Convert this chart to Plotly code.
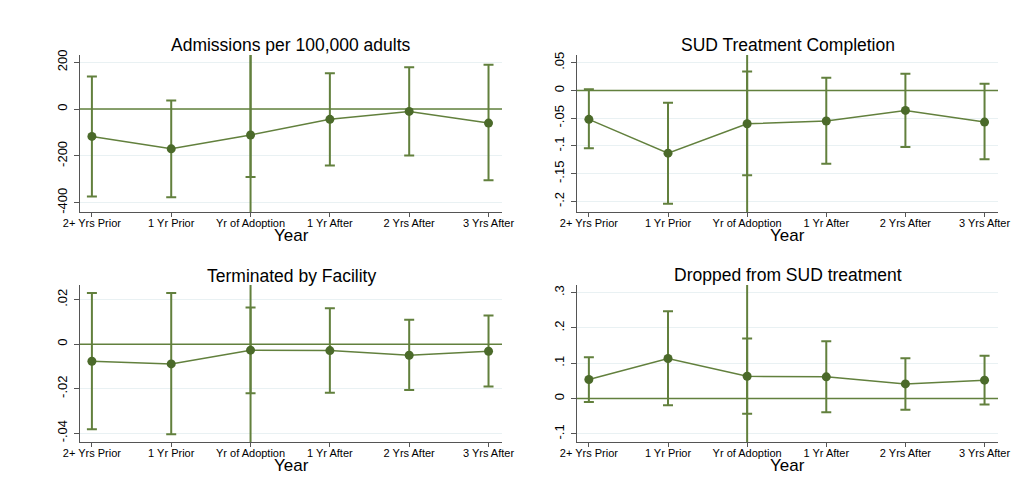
import plotly.graph_objects as go

W, H = 1020, 493
OFF = 8  # page body margin offset

labels = ["2+ Yrs Prior", "1 Yr Prior", "Yr of Adoption", "1 Yr After", "2 Yrs After", "3 Yrs After"]

adm_est = [-117, -170, -111, -44, -10, -60]
adm_lo = [-374, -377, -290, -241, -199, -304]
adm_hi = [139, 37, 239, 153, 179, 189]

comp_est = [-0.052, -0.113, -0.060, -0.055, -0.036, -0.057]
comp_lo = [-0.104, -0.204, -0.153, -0.132, -0.102, -0.124]
comp_hi = [0.002, -0.022, 0.034, 0.023, 0.030, 0.012]

term_est = [-0.0077, -0.0089, -0.0027, -0.0029, -0.0050, -0.0032]
term_lo = [-0.0383, -0.0405, -0.0221, -0.0218, -0.0206, -0.0190]
term_hi = [0.0230, 0.0230, 0.0165, 0.0162, 0.0110, 0.0129]

drop_est = [0.054, 0.1135, 0.063, 0.0615, 0.0415, 0.052]
drop_lo = [-0.010, -0.019, -0.043, -0.039, -0.032, -0.017]
drop_hi = [0.117, 0.247, 0.170, 0.162, 0.114, 0.121]

titles = ["Admissions per 100,000 adults", "SUD Treatment Completion",
          "Terminated by Facility", "Dropped from SUD treatment"]

adm_ticks = [-400, -200, 0, 200]
adm_ticktext = ["-400", "-200", "0", "200"]
comp_ticks = [-0.2, -0.15, -0.1, -0.05, 0, 0.05]
comp_ticktext = ["-.2", "-.15", "-.1", "-.05", "0", ".05"]
term_ticks = [-0.04, -0.02, 0, 0.02]
term_ticktext = ["-.04", "-.02", "0", ".02"]
drop_ticks = [-0.1, 0, 0.1, 0.2, 0.3]
drop_ticktext = ["-.1", "0", ".1", ".2", ".3"]

panels = [
    (adm_est, adm_lo, adm_hi, adm_ticks, adm_ticktext, [-440, 231]),
    (comp_est, comp_lo, comp_hi, comp_ticks, comp_ticktext, [-0.219, 0.0639]),
    (term_est, term_lo, term_hi, term_ticks, term_ticktext, [-0.044, 0.0266]),
    (drop_est, drop_lo, drop_hi, drop_ticks, drop_ticktext, [-0.123, 0.3215]),
]

XR = [-0.15, 5.17]

# target pixel boxes in the screenshot (left, right, top, bottom)
boxes = [(80, 502, 55, 212), (577, 998, 55, 212), (80, 502, 285, 442), (577, 998, 285, 442)]
title_y = [45, 45, 276, 275]
year_y = [235, 235, 465, 465]

MARK = "#4B6A2A"
LINE = "#62803D"
GRID = "#E9F1F3"
AX = "#555555"
FONT = "Liberation Sans, Arial, sans-serif"


def px_x(v):
    return (v - OFF) / W


def px_y(v):
    return 1 - (v - OFF) / H


fig = go.Figure()
xs = list(range(len(labels)))

for i, (est, lo, hi, tv, tt, yr) in enumerate(panels):
    n = "" if i == 0 else str(i + 1)
    l, r, t, b = boxes[i]
    xa, ya = "x" + n, "y" + n
    # zero reference line
    fig.add_trace(go.Scatter(x=XR, y=[0, 0], mode="lines", line=dict(color=LINE, width=1.5),
                             xaxis=xa, yaxis=ya, showlegend=False, hoverinfo="skip"))
    # adoption-year reference line
    fig.add_trace(go.Scatter(x=[xs[2], xs[2]], y=yr, mode="lines", line=dict(color=LINE, width=2),
                             xaxis=xa, yaxis=ya, showlegend=False, hoverinfo="skip"))
    fig.add_trace(go.Scatter(
        x=xs, y=est, mode="lines+markers",
        line=dict(color=LINE, width=1.5),
        marker=dict(color=MARK, size=9),
        error_y=dict(type="data", array=[h - e for h, e in zip(hi, est)],
                     arrayminus=[e - lo_ for e, lo_ in zip(est, lo)],
                     color=LINE, thickness=2, width=5),
        xaxis=xa, yaxis=ya, showlegend=False, hoverinfo="skip"))
    fig.update_layout(**{
        "xaxis" + n: dict(domain=[px_x(l), px_x(r)], anchor=ya, range=XR, automargin=False,
                          tickvals=xs, ticktext=labels, showgrid=False, zeroline=False,
                          showline=True, linecolor=AX, linewidth=1, ticks="outside",
                          ticklen=4, tickcolor=AX, ticklabelstandoff=-3,
                          tickfont=dict(size=11, color="#000", family=FONT)),
        "yaxis" + n: dict(domain=[px_y(b), px_y(t)], anchor=xa, range=yr, automargin=False,
                          tickvals=tv, ticktext=tt, showgrid=True, gridcolor=GRID, gridwidth=1,
                          zeroline=False, showline=True, linecolor=AX, linewidth=1,
                          ticks="outside", ticklen=5, tickcolor=AX, tickangle=-90,
                          ticklabelstandoff=2,
                          tickfont=dict(size=13, color="#000", family=FONT)),
    })
    fig.add_annotation(text=titles[i], x=px_x((l + r) / 2), y=px_y(title_y[i]), xref="paper",
                       yref="paper", showarrow=False, xanchor="center", yanchor="middle",
                       font=dict(size=17.5, color="#000", family=FONT))
    fig.add_annotation(text="Year", x=px_x((l + r) / 2), y=px_y(year_y[i]), xref="paper",
                       yref="paper", showarrow=False, xanchor="center", yanchor="middle",
                       font=dict(size=17, color="#000", family=FONT))

fig.update_layout(width=W, height=H, margin=dict(l=0, r=0, t=0, b=0, autoexpand=False),
                  paper_bgcolor="white", plot_bgcolor="white", showlegend=False)

fig.write_html("out.html")
